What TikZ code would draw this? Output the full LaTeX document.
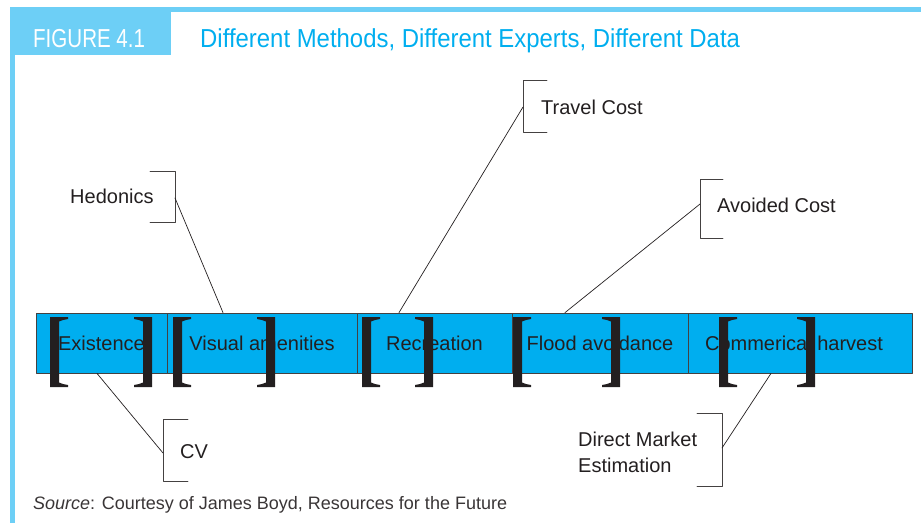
\documentclass[tikz,border=0pt]{standalone}
\usepackage{fontspec}
\setmainfont{Liberation Sans}
\newfontfamily\headfont[FakeStretch=0.92]{Liberation Sans}
\newfontfamily\tabfont[FakeStretch=0.79]{Liberation Sans}
\definecolor{frameblue}{HTML}{6DCFF6}
\definecolor{cellblue}{HTML}{00AEEF}
\definecolor{titleblue}{HTML}{00AEEF}
\definecolor{inkdark}{HTML}{231F20}
\tikzset{
  cell/.style={draw=inkdark!85,line width=0.8pt,fill=cellblue,minimum height=60pt,
    inner sep=0pt,text height=14.5pt,text depth=0pt,text=inkdark,font=\fontsize{20}{24}\selectfont},
  tag/.style={anchor=base west,inner sep=0pt,text=inkdark,align=left,font=\fontsize{20}{26}\selectfont},
  callout/.style={draw=inkdark!85,line width=0.9pt},
  lead/.style={draw=inkdark,line width=0.7pt},
  lbrk/.pic={\fill[inkdark] (0,0)--(18,0)--(18,2)--(13,3)--(9,4.5)--(9,65.5)--(13,67)--(18,68)--(18,70)--(0,70)--cycle;},
  rbrk/.pic={\fill[inkdark] (0,0)--(-18,0)--(-18,2)--(-13,3)--(-9,4.5)--(-9,65.5)--(-13,67)--(-18,68)--(-18,70)--(0,70)--cycle;}
}
\begin{document}
\begin{tikzpicture}[line cap=round,line join=round,x=1pt,y=-1pt]
\useasboundingbox (0,0) rectangle (921,523);
% frame and heading
\fill[frameblue] (10,7) rectangle (921,12);
\fill[frameblue] (10,7) rectangle (15,523);
\fill[frameblue] (10,7) rectangle (171,55);
\node[anchor=base west,inner sep=0pt,text=white,font=\tabfont\fontsize{26}{30}\selectfont] (figno) at (33,47) {FIGURE 4.1};
\node[anchor=base west,inner sep=0pt,text=titleblue,font=\headfont\fontsize{26}{30}\selectfont] (title) at (200,47) {Different Methods, Different Experts, Different Data};
% row of services
\node[cell,minimum width=131pt] (exist) at (101.5,343) {Existence};
\node[cell,minimum width=190pt] (visual) at (262,343) {Visual amenities};
\node[cell,minimum width=155pt] (recr) at (434.5,343) {Recreation};
\node[cell,minimum width=176pt] (flood) at (600,343) {Flood avoidance};
\node[cell,minimum width=224pt] (harvest) at (800,343) {Commerical harvest\hspace*{12pt}};
% big brackets
\pic at (50,317) {lbrk};   \pic at (152,317) {rbrk};
\pic at (173,317) {lbrk};  \pic at (275,317) {rbrk};
\pic at (362,317) {lbrk};  \pic at (433,317) {rbrk};
\pic at (513,317) {lbrk};  \pic at (620,317) {rbrk};
\pic at (719,317) {lbrk};  \pic at (815,317) {rbrk};
% methods
\node[tag] (hedon) at (70,203) {Hedonics};
\node[tag] (travel) at (541,114) {Travel Cost};
\node[tag] (avoid) at (717,212) {Avoided Cost};
\node[tag] (cv) at (180,458) {CV};
\node[tag] (market) at (578,472) {Direct Market\\Estimation};
\draw[callout] (150,171)--(175,171)--(175,222)--(150,222);
\draw[callout] (547,80)--(523,80)--(523,132)--(547,132);
\draw[callout] (723,179)--(700,179)--(700,238)--(723,238);
\draw[callout] (188,419)--(163,419)--(163,481)--(188,481);
\draw[callout] (697,413)--(722,413)--(722,486)--(697,486);
\coordinate (hedonT) at (175,198);
\coordinate (travelT) at (523,107);
\coordinate (avoidT) at (700,204);
\coordinate (cvT) at (163,453);
\coordinate (marketT) at (722,448);
\draw[lead] (hedonT)--([xshift=-39pt]visual.north);
\draw[lead] (travelT)--([xshift=-35.5pt]recr.north);
\draw[lead] (avoidT)--([xshift=-35pt]flood.north);
\draw[lead] (cvT)--([xshift=-4.5pt]exist.south);
\draw[lead] (marketT)--([xshift=-29pt]harvest.south);
% source line
\node[anchor=base west,inner sep=0pt,text=inkdark!90,font=\fontsize{18}{22}\selectfont] (source) at (33,509) {\textit{Source}: Courtesy of James Boyd, Resources for the Future};
\end{tikzpicture}
\end{document}
